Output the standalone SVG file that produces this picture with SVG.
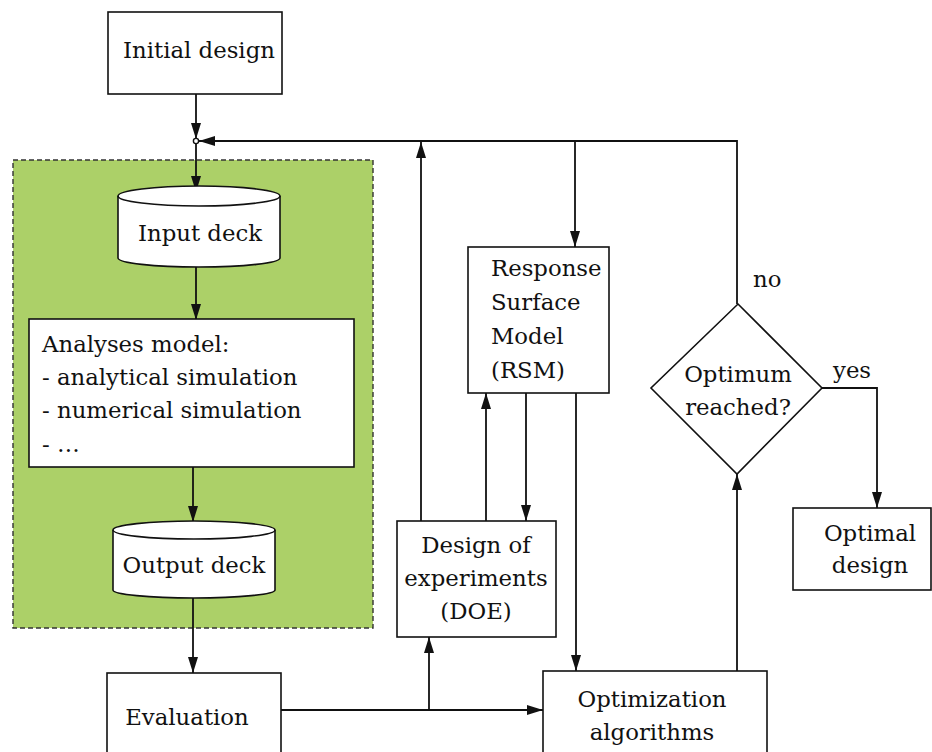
<svg xmlns="http://www.w3.org/2000/svg" width="932" height="752" viewBox="0 0 932 752">
<style>
.box{fill:#fff;stroke:#111;stroke-width:1.6}
.t{font-family:'DejaVu Serif',serif;font-size:22.8px;fill:#111}
.m{text-anchor:middle}
.c{fill:none;stroke:#111;stroke-width:1.8}
</style>
<defs>
<marker id="arr" markerUnits="userSpaceOnUse" markerWidth="17" markerHeight="11" refX="16" refY="5" orient="auto">
<path d="M0,0 L16,5 L0,10 z" fill="#111"/>
</marker>
</defs>
<rect id="region" x="13" y="160" width="360" height="468" fill="#acd068" stroke="#333" stroke-width="1.4" stroke-dasharray="5,3"/>
<g id="connectors">
<path class="c" d="M196,94 V139" marker-end="url(#arr)"/>
<path class="c" d="M737,304 V141 H199" marker-end="url(#arr)"/>
<path class="c" d="M196,143 V192" marker-end="url(#arr)"/>
<path class="c" d="M196,267 V320" marker-end="url(#arr)"/>
<path class="c" d="M193,467 V522" marker-end="url(#arr)"/>
<path class="c" d="M193,598 V673" marker-end="url(#arr)"/>
<path class="c" d="M281,710 H543" marker-end="url(#arr)"/>
<path class="c" d="M429,710 V637" marker-end="url(#arr)"/>
<path class="c" d="M421,521 V142" marker-end="url(#arr)"/>
<path class="c" d="M486,521 V393" marker-end="url(#arr)"/>
<path class="c" d="M526,393 V521" marker-end="url(#arr)"/>
<path class="c" d="M575,141 V247" marker-end="url(#arr)"/>
<path class="c" d="M576,393 V671" marker-end="url(#arr)"/>
<path class="c" d="M737,752 V474" marker-end="url(#arr)"/>
<path class="c" d="M822,388 H877 V508" marker-end="url(#arr)"/>
<circle cx="196" cy="141" r="2.6" fill="#fff" stroke="#111" stroke-width="1.4"/>
</g>
<g id="initial">
<rect class="box" x="108" y="12" width="174" height="82"/>
<text class="t m" x="199" y="58">Initial design</text>
</g>
<g id="input">
<path class="box" d="M118,196 A81,10 0 0 1 280,196 V258 A81,9 0 0 1 118,258 Z"/>
<path class="c" style="stroke-width:1.6" d="M118,196 A81,10 0 0 0 280,196"/>
<text class="t m" x="200" y="241">Input deck</text>
</g>
<g id="analyses">
<rect class="box" x="29" y="319" width="325" height="148"/>
<text class="t" x="42" y="352">Analyses model:</text>
<text class="t" x="42" y="385">- analytical simulation</text>
<text class="t" x="42" y="418">- numerical simulation</text>
<text class="t" x="42" y="452">- …</text>
</g>
<g id="output">
<path class="box" d="M113,530 A81,9 0 0 1 275,530 V590 A81,8 0 0 1 113,590 Z"/>
<path class="c" style="stroke-width:1.6" d="M113,530 A81,9 0 0 0 275,530"/>
<text class="t m" x="194" y="573">Output deck</text>
</g>
<g id="evaluation">
<rect class="box" x="107" y="673" width="174" height="90"/>
<text class="t m" x="187" y="725">Evaluation</text>
</g>
<g id="doe">
<rect class="box" x="397" y="521" width="159" height="116"/>
<text class="t m" x="476" y="553">Design of</text>
<text class="t m" x="476" y="586">experiments</text>
<text class="t m" x="476" y="619">(DOE)</text>
</g>
<g id="rsm">
<rect class="box" x="468" y="247" width="141" height="146"/>
<text class="t" x="491" y="276">Response</text>
<text class="t" x="491" y="310">Surface</text>
<text class="t" x="491" y="344">Model</text>
<text class="t" x="491" y="378">(RSM)</text>
</g>
<g id="optimization">
<rect class="box" x="543" y="671" width="224" height="95"/>
<text class="t m" x="652" y="707">Optimization</text>
<text class="t m" x="652" y="740">algorithms</text>
</g>
<g id="decision">
<path class="box" d="M738,304 L822,388 L737,474 L651,388 Z"/>
<text class="t m" x="738" y="382">Optimum</text>
<text class="t m" x="738" y="415">reached?</text>
</g>
<g id="labels">
<text class="t" x="753" y="287">no</text>
<text class="t" x="833" y="378">yes</text>
</g>
<g id="optimal">
<rect class="box" x="793" y="508" width="138" height="82"/>
<text class="t m" x="870" y="541">Optimal</text>
<text class="t m" x="870" y="573">design</text>
</g>
</svg>
